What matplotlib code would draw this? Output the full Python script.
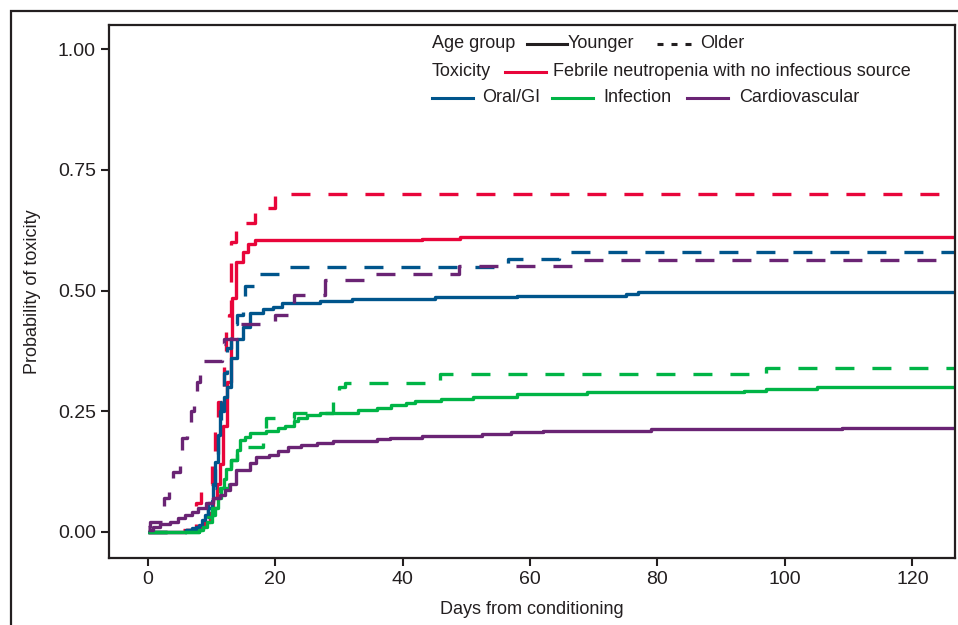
import numpy as np
import matplotlib
matplotlib.use("Agg")
from matplotlib import pyplot as plt
from matplotlib.lines import Line2D
from matplotlib.patches import Rectangle

plt.rcParams['font.family'] = ['Liberation Sans', 'DejaVu Sans']
plt.rcParams['lines.scale_dashes'] = False

# cumulative incidence steps (time in days, probability)
feb_young_t = [0, 6, 8, 9, 9.8, 10.3, 10.8, 11.3, 11.8, 12.4, 13, 13.2, 13.9, 15, 15.7, 16.8, 43, 49, 127]
feb_young_p = [0, 0.003, 0.01, 0.02, 0.04, 0.07, 0.10, 0.14, 0.22, 0.31, 0.40, 0.485, 0.56, 0.58, 0.596, 0.605, 0.607, 0.611, 0.611]
feb_old_t = [0, 4, 7.5, 8.3, 9.5, 10, 10.5, 11, 11.5, 12, 12.3, 12.8, 13.1, 13.8, 16.8, 20, 127]
feb_old_p = [0, 0.005, 0.06, 0.09, 0.10, 0.14, 0.22, 0.27, 0.30, 0.36, 0.42, 0.45, 0.60, 0.64, 0.67, 0.70, 0.70]

gi_young_t = [0, 6, 7, 8, 8.5, 9, 9.5, 10, 10.3, 10.6, 11, 11.3, 12, 12.4, 13.1, 14, 15, 16, 18, 19.7, 21, 27, 32, 45, 58, 75, 77, 127]
gi_young_p = [0, 0.003, 0.008, 0.015, 0.025, 0.035, 0.05, 0.065, 0.10, 0.145, 0.20, 0.25, 0.28, 0.30, 0.36, 0.40, 0.425,
              0.453, 0.462, 0.466, 0.475, 0.479, 0.483, 0.486, 0.489, 0.492, 0.4975, 0.4975]
gi_old_t = [0, 6, 7.5, 8.5, 9.5, 10, 10.5, 11, 11.5, 12, 12.5, 13, 14, 15, 15.3, 17.3, 20.7, 56.5, 64.6, 127]
gi_old_p = [0, 0.003, 0.01, 0.03, 0.06, 0.09, 0.15, 0.22, 0.27, 0.33, 0.38, 0.43, 0.45, 0.48, 0.51, 0.535, 0.549, 0.565, 0.58, 0.58]

inf_young_t = [0, 8, 8.7, 9.3, 10, 10.5, 11, 11.5, 12, 12.3, 13, 14, 14.5, 15.3, 16, 18.5, 20.5, 21.5, 23, 23.5, 25, 27, 33,
               36, 38.2, 40.5, 42, 46, 51, 58, 69, 93.6, 97, 105, 127]
inf_young_p = [0, 0.003, 0.01, 0.02, 0.035, 0.05, 0.07, 0.09, 0.11, 0.13, 0.15, 0.17, 0.19, 0.197, 0.205, 0.21, 0.215, 0.22,
               0.23, 0.236, 0.242, 0.247, 0.252, 0.257, 0.263, 0.268, 0.272, 0.275, 0.279, 0.285, 0.289, 0.292, 0.296,
               0.2995, 0.2995]
inf_old_t = [0, 8, 9.5, 10, 11, 11.3, 12.8, 13, 14, 18, 18.5, 23, 29, 30, 31, 45.8, 97, 127]
inf_old_p = [0, 0.005, 0.03, 0.05, 0.065, 0.09, 0.11, 0.15, 0.175, 0.21, 0.235, 0.247, 0.282, 0.30, 0.309, 0.3265, 0.339, 0.339]

cv_young_t = [0, 0.8, 1.9, 3.4, 4.8, 5.8, 6.9, 7.9, 9.2, 10.2, 11.3, 12.1, 12.9, 13.9, 16, 17, 19, 20.5, 22, 24, 26.5, 29,
              36, 38, 43, 52.5, 57, 62, 79, 109, 127]
cv_young_p = [0.004, 0.01, 0.016, 0.021, 0.029, 0.035, 0.042, 0.05, 0.06, 0.07, 0.077, 0.087, 0.10, 0.128, 0.143, 0.155,
              0.16, 0.167, 0.175, 0.18, 0.1835, 0.188, 0.1925, 0.195, 0.1987, 0.203, 0.206, 0.21, 0.2133, 0.216, 0.216]
cv_old_t = [0, 0.3, 2.3, 2.6, 3.3, 4, 5, 5.3, 6.2, 6.7, 7.2, 7.7, 8.2, 11.6, 12, 14.5, 20, 23, 27.8, 35.5, 48.8, 67, 127]
cv_old_p = [0.01, 0.02, 0.045, 0.07, 0.11, 0.125, 0.165, 0.195, 0.225, 0.25, 0.29, 0.31, 0.355, 0.39, 0.40, 0.43, 0.449,
            0.49, 0.522, 0.534, 0.551, 0.563, 0.563]

x_ticks = [0, 20, 40, 60, 80, 100, 120]
y_ticks = [0.00, 0.25, 0.50, 0.75, 1.00]

red = '#e8053a'
blue = '#00558c'
green = '#00b446'
purple = '#6a2474'
ink = '#231f20'

W, H = 958, 625
fig = plt.figure(figsize=(W / 100, H / 100), dpi=100)
ax = fig.add_axes([109 / W, 1 - 558 / H, (955 - 109) / W, (558 - 25) / H])

dash = (19 / 1.389, 18 / 1.389)
series = [
    (feb_young_t, feb_young_p, red, False),
    (feb_old_t, feb_old_p, red, True),
    (gi_young_t, gi_young_p, blue, False),
    (gi_old_t, gi_old_p, blue, True),
    (inf_young_t, inf_young_p, green, False),
    (inf_old_t, inf_old_p, green, True),
    (cv_young_t, cv_young_p, purple, False),
    (cv_old_t, cv_old_p, purple, True),
]
for t, p, col, dashed in series:
    ln, = ax.step(t, p, where='post', color=col, lw=2.4, solid_capstyle='butt')
    if dashed:
        ln.set_dashes(dash)
        ln.set_dash_capstyle('butt')

ax.set_xlim(-6.1, 126.7)
ax.set_ylim(-0.054, 1.05)
ax.set_xticks(x_ticks)
ax.set_yticks(y_ticks)
ax.set_yticklabels(['%.2f' % v for v in y_ticks])
for s in ax.spines.values():
    s.set_linewidth(1.6)
    s.set_color(ink)
ax.tick_params(length=5.5, width=1.5, color=ink, labelcolor=ink, labelsize=14, pad=4)

narrow = ['Liberation Sans Narrow', 'Liberation Sans', 'DejaVu Sans']
ax.set_xlabel('Days from conditioning', family=narrow, fontsize=13, color=ink, labelpad=9)
ax.set_ylabel('Probability of toxicity', family=narrow, fontsize=13, color=ink, labelpad=12)

# outer frame of the figure panel
fig.add_artist(Rectangle((11 / W, -0.1), 1.2, 1 - 11 / H + 0.1, transform=fig.transFigure,
                         fill=False, lw=1.6, ec=ink))

# hand-laid legend
def px(x, y):
    return x / W, 1 - y / H

def key(x0, x1, y, col, dashed=False):
    a, b = px(x0, y)
    c, _ = px(x1, y)
    ln = Line2D([a, c], [b, b], transform=fig.transFigure, color=col, lw=2.2)
    if dashed:
        ln.set_dashes((6 / 1.389, 8 / 1.389))
    fig.add_artist(ln)

def label(x, y, s):
    a, b = px(x, y)
    fig.text(a, b, s, ha='left', va='center', fontsize=13, color=ink)

label(432, 44, 'Age group')
key(527, 567, 44, ink)
label(568, 44, 'Younger')
key(657, 697, 44, ink, dashed=True)
label(700, 44, 'Older')
label(432, 72, 'Toxicity')
key(505, 546, 72, red)
label(553, 72, 'Febrile neutropenia with no infectious source')
key(432, 473, 98, blue)
label(482, 98, 'Oral/GI')
key(552, 593, 98, green)
label(603, 98, 'Infection')
key(687, 728, 98, purple)
label(739, 98, 'Cardiovascular')

fig.savefig('out.png', dpi=100)
